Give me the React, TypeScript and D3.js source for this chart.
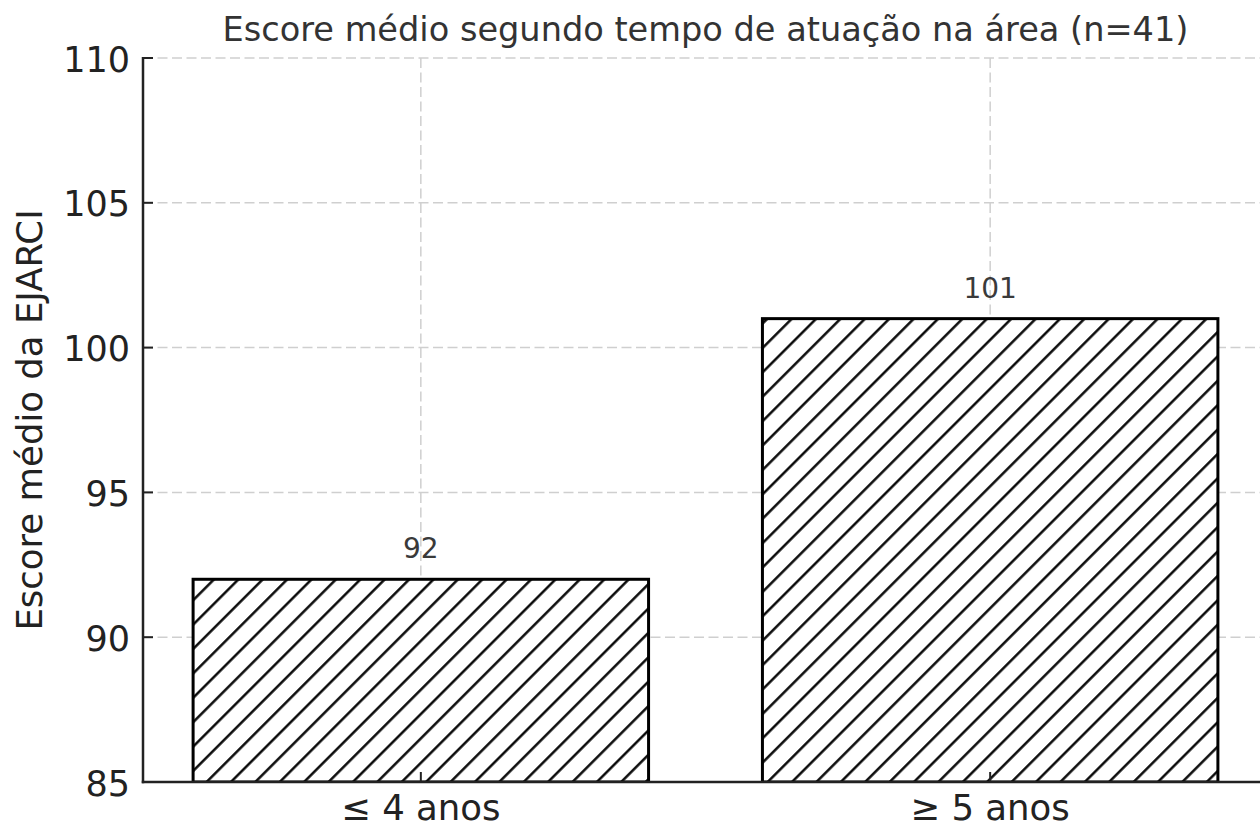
import React from 'react'
import * as d3 from 'd3'

const categories = ['≤ 4 anos', '≥ 5 anos']
const scores = [92, 101]
const yTicks = [85, 90, 95, 100, 105, 110]
const title = 'Escore médio segundo tempo de atuação na área (n=41)'
const yLabel = 'Escore médio da EJARCI'

const width = 1260
const height = 825
const font = '"DejaVu Sans", sans-serif'

export default function App() {
  const left = 143
  const top = 58
  const bottom = 782
  const right = 1268

  const x = d3.scaleBand<string>()
    .domain(categories)
    .range([left, right])
    .paddingInner(0.2)
    .paddingOuter(0.088)

  const y = d3.scaleLinear().domain([85, 110]).range([bottom, top])

  const hatchStep = 17.25

  return <svg width={width} height={height}
    style={{position: 'absolute', left: 0, top: 0, display: 'block', background: 'white'}}>
    <defs>
      <pattern id="hatch" patternUnits="userSpaceOnUse" width={hatchStep} height={hatchStep}
        patternTransform="rotate(45)">
        <line x1={9} y1={-1} x2={9} y2={hatchStep + 1} stroke="#000" strokeWidth={2.4} />
      </pattern>
      <clipPath id="plot">
        <rect x={left} y={top} width={right - left} height={bottom - top} />
      </clipPath>
    </defs>

    {/* grid */}
    <g stroke="#cfcfcf" strokeWidth={1.5} strokeDasharray="10,4.5">
      {yTicks.map(t => <line key={t} x1={left} x2={right} y1={y(t)} y2={y(t)} />)}
      {categories.map(c => {
        const cx = x(c)! + x.bandwidth() / 2
        return <line key={c} x1={cx} x2={cx} y1={top} y2={bottom} />
      })}
    </g>

    {/* bars */}
    <g clipPath="url(#plot)">
      {categories.map((c, i) => {
        const yTop = y(scores[i])
        return <g key={c}>
          <rect x={x(c)} y={yTop} width={x.bandwidth()} height={bottom - yTop} fill="white" />
          <rect x={x(c)} y={yTop} width={x.bandwidth()} height={bottom - yTop}
            fill="url(#hatch)" stroke="#000" strokeWidth={3} />
        </g>
      })}
    </g>

    {/* value labels */}
    {categories.map((c, i) => <text key={c} x={x(c)! + x.bandwidth() / 2} y={y(scores[i]) - 21}
      textAnchor="middle" fontFamily={font} fontSize={28} fill="#3a3a3a">{scores[i]}</text>)}

    {/* spines */}
    <g stroke="#222" strokeWidth={2.5} fill="none">
      <line x1={left} x2={left} y1={top - 1} y2={bottom + 1.25} />
      <line x1={left - 1.25} x2={width} y1={bottom} y2={bottom} />
    </g>

    {/* y ticks */}
    {yTicks.map(t => <g key={t}>
      <line x1={left} x2={left + 10} y1={y(t)} y2={y(t)} stroke="#222" strokeWidth={2} />
      <text x={130} y={y(t) + 13.5} textAnchor="end" fontFamily={font} fontSize={35} fill="#222">{t}</text>
    </g>)}

    {/* x ticks */}
    {categories.map(c => {
      const cx = x(c)! + x.bandwidth() / 2
      return <g key={c}>
        <line x1={cx} x2={cx} y1={bottom} y2={bottom - 10} stroke="#222" strokeWidth={2} />
        <text x={cx} y={820} textAnchor="middle" fontFamily={font} fontSize={35.5} fill="#222">{c}</text>
      </g>
    })}

    <text x={42} y={(top + bottom) / 2} transform={`rotate(-90, 42, ${(top + bottom) / 2})`}
      textAnchor="middle" fontFamily={font} fontSize={35.5} fill="#222">{yLabel}</text>

    <text x={(left + right) / 2} y={41} textAnchor="middle" fontFamily={font} fontSize={33.6}
      fill="#333">{title}</text>
  </svg>
}
